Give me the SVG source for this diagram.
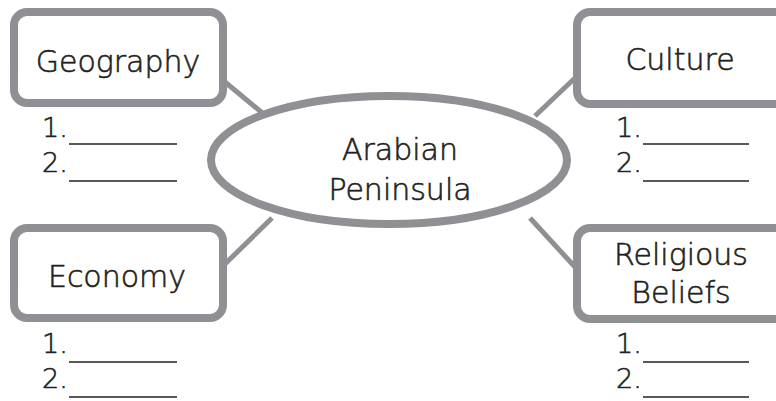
<svg xmlns="http://www.w3.org/2000/svg" width="776" height="401" viewBox="0 0 776 401">
<style>
.box{fill:#fff;stroke:#8f9093;stroke-width:8}
.conn{stroke:#8f9093;stroke-width:5;fill:none}
.t{font-family:"DejaVu Sans",sans-serif;font-weight:200;fill:#231f20;stroke:#231f20;stroke-width:0.6;text-anchor:middle}
.lbl{font-size:30px}
.num{font-family:"DejaVu Sans",sans-serif;font-weight:200;fill:#231f20;stroke:#231f20;stroke-width:0.6;font-size:27px}
.ul{stroke:#231f20;stroke-width:1.6}
</style>
<rect width="776" height="401" fill="#fff"/>
<g id="connectors">
<line class="conn" x1="225" y1="82" x2="266" y2="116"/>
<line class="conn" x1="575" y1="78" x2="535" y2="116"/>
<line class="conn" x1="225" y1="264" x2="272" y2="218"/>
<line class="conn" x1="530" y1="218" x2="575" y2="267"/>
</g>
<g id="center">
<ellipse class="box" cx="389" cy="160" rx="178" ry="64"/>
<text class="t lbl" x="400" y="160">Arabian</text>
<text class="t lbl" x="400" y="200">Peninsula</text>
</g>
<g id="geography">
<rect class="box" x="14" y="12" width="209" height="91" rx="13"/>
<text class="t lbl" x="118" y="72">Geography</text>
<text class="num" x="42" y="137">1.</text>
<line class="ul" x1="69" y1="144" x2="177" y2="144"/>
<text class="num" x="42" y="172">2.</text>
<line class="ul" x1="69" y1="181" x2="177" y2="181"/>
</g>
<g id="culture">
<rect class="box" x="577" y="12" width="220" height="92" rx="13"/>
<text class="t lbl" x="680" y="70">Culture</text>
<text class="num" x="616" y="137">1.</text>
<line class="ul" x1="643" y1="144" x2="749" y2="144"/>
<text class="num" x="616" y="172">2.</text>
<line class="ul" x1="643" y1="181" x2="749" y2="181"/>
</g>
<g id="economy">
<rect class="box" x="14" y="228" width="209" height="90" rx="13"/>
<text class="t lbl" x="117" y="287">Economy</text>
<text class="num" x="42" y="353">1.</text>
<line class="ul" x1="69" y1="362" x2="177" y2="362"/>
<text class="num" x="42" y="388">2.</text>
<line class="ul" x1="69" y1="397" x2="177" y2="397"/>
</g>
<g id="religious">
<rect class="box" x="577" y="228" width="220" height="91" rx="13"/>
<text class="t lbl" x="681" y="265">Religious</text>
<text class="t lbl" x="681" y="303">Beliefs</text>
<text class="num" x="616" y="353">1.</text>
<line class="ul" x1="643" y1="362" x2="749" y2="362"/>
<text class="num" x="616" y="388">2.</text>
<line class="ul" x1="643" y1="397" x2="749" y2="397"/>
</g>
</svg>
